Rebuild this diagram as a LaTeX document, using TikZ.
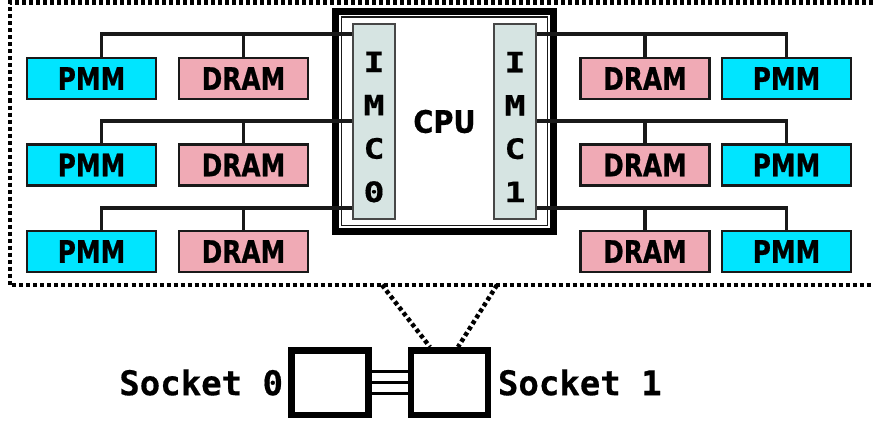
\documentclass[tikz,border=0pt]{standalone}
\usepackage{fontspec}
\usetikzlibrary{positioning}
\newfontfamily\boxfont[FakeStretch=0.8, FakeBold=0.6]{DejaVu Sans}
\newfontfamily\cpufont[FakeStretch=0.88, FakeBold=0.6]{DejaVu Sans}
\newfontfamily\sockfont[FakeBold=0.5]{DejaVu Sans Mono}
\newfontfamily\imcfont[FakeStretch=1.25, FakeBold=0.5]{DejaVu Sans Mono}
\definecolor{pmmcyan}{RGB}{0,229,255}
\definecolor{dramrose}{RGB}{240,170,181}
\definecolor{imcgray}{RGB}{214,228,226}
\definecolor{zline}{RGB}{25,25,25}

\begin{document}
\begin{tikzpicture}[x=1pt, y=-1pt,
  pmmbox/.style={rectangle, draw=zline, line width=2.2pt, fill=pmmcyan,
                 minimum width=129pt, minimum height=41pt, inner sep=0pt,
                 font=\boxfont\bfseries\fontsize{31}{31}\selectfont},
  drambox/.style={pmmbox, fill=dramrose},
  imcbox/.style={rectangle, draw=zline!80, line width=1.5pt, fill=imcgray,
                 minimum width=42pt, minimum height=195pt},
  imctext/.style={align=center, inner sep=0pt,
                  font=\imcfont\bfseries\fontsize{28}{43.3}\selectfont},
  cpubox/.style={rectangle, draw=black, line width=7pt,
                 minimum width=218pt, minimum height=220pt,
                 font=\cpufont\bfseries\fontsize{31}{31}\selectfont},
  cpuinner/.style={rectangle, draw=zline, line width=1.2pt,
                   minimum width=206pt, minimum height=208.5pt},
  sockbox/.style={rectangle, draw=black, line width=6.5pt, fill=white,
                  minimum width=77pt, minimum height=64.5pt},
  socklabel/.style={inner sep=0pt, font=\sockfont\bfseries\fontsize{34}{34}\selectfont},
  bus/.style={line width=3.2pt, zline},
  link/.style={line width=3pt, black},
  dotline/.style={line width=4.5pt, dash pattern=on 4pt off 3pt}
]
\useasboundingbox (0,0) rectangle (873,423);

% Socket area (open on the right)
\draw[dotline] (873,2.5) -| (10,285) -- (873,285);

% Bus rows
\coordinate (rowA) at (0,34);
\coordinate (rowB) at (0,121);
\coordinate (rowC) at (0,208);

% CPU with its two memory controllers
\node[cpubox]   (cpu)   at (444.5,121.5) {CPU};
\node[cpuinner] (cpuin) at (444.5,121.25) {};
\node[imcbox]   (imc0)  at (374,121.5) {};
\node[imcbox]   (imc1)  at (515,121.5) {};
\node[imctext]  (imc0txt) at ([yshift=-5.5pt]imc0.center) {I\\M\\C\\0};
\node[imctext]  (imc1txt) at ([yshift=-5.5pt]imc1.center) {I\\M\\C\\1};

% Left channels
\node[pmmbox]  (pmmL1)  at (91.5,78.5)  {PMM};
\node[drambox] (dramL1) at (243.5,78.5) {DRAM};
\node[pmmbox]  (pmmL2)  at (91.5,165)   {PMM};
\node[drambox] (dramL2) at (243.5,165)  {DRAM};
\node[pmmbox]  (pmmL3)  at (91.5,251.5) {PMM};
\node[drambox] (dramL3) at (243.5,251.5) {DRAM};

% Right channels
\node[drambox] (dramR1) at (645,78.5)   {DRAM};
\node[pmmbox]  (pmmR1)  at (786.5,78.5) {PMM};
\node[drambox] (dramR2) at (645,165)    {DRAM};
\node[pmmbox]  (pmmR2)  at (786.5,165)  {PMM};
\node[drambox] (dramR3) at (645,251.5)  {DRAM};
\node[pmmbox]  (pmmR3)  at (786.5,251.5) {PMM};

% Left buses to IMC 0
\draw[bus] ([xshift=10pt]pmmL1.north) |- (imc0.west |- rowA);
\draw[bus] (dramL1.north) -- (dramL1.north |- rowA);
\draw[bus] ([xshift=10pt]pmmL2.north) |- (imc0.west |- rowB);
\draw[bus] (dramL2.north) -- (dramL2.north |- rowB);
\draw[bus] ([xshift=10pt]pmmL3.north) |- (imc0.west |- rowC);
\draw[bus] (dramL3.north) -- (dramL3.north |- rowC);

% Right buses to IMC 1
\draw[bus] (imc1.east |- rowA) -| (pmmR1.north);
\draw[bus] (dramR1.north) -- (dramR1.north |- rowA);
\draw[bus] (imc1.east |- rowB) -| (pmmR2.north);
\draw[bus] (dramR2.north) -- (dramR2.north |- rowB);
\draw[bus] (imc1.east |- rowC) -| (pmmR3.north);
\draw[bus] (dramR3.north) -- (dramR3.north |- rowC);

% Two sockets
\node[sockbox] (sock0) at (330,382.5) {};
\node[sockbox] (sock1) at (449.5,382.5) {};
\node[socklabel, left=5pt of sock0]  (sock0lbl) {Socket 0};
\node[socklabel, right=6.5pt of sock1] (sock1lbl) {Socket 1};

% Socket interconnect
\draw[link] ([yshift=11pt]sock0.east)  -- ([yshift=11pt]sock1.west);
\draw[link] (sock0.east)               -- (sock1.west);
\draw[link] ([yshift=-11pt]sock0.east) -- ([yshift=-11pt]sock1.west);

% Zoom lines from socket 1 to the socket area
\coordinate (tapA) at (382,285);
\coordinate (tapB) at (497,285);
\draw[dotline] (tapA) -- ([xshift=-19.5pt]sock1.north);
\draw[dotline] (tapB) -- ([xshift=8.5pt]sock1.north);

\end{tikzpicture}
\end{document}
